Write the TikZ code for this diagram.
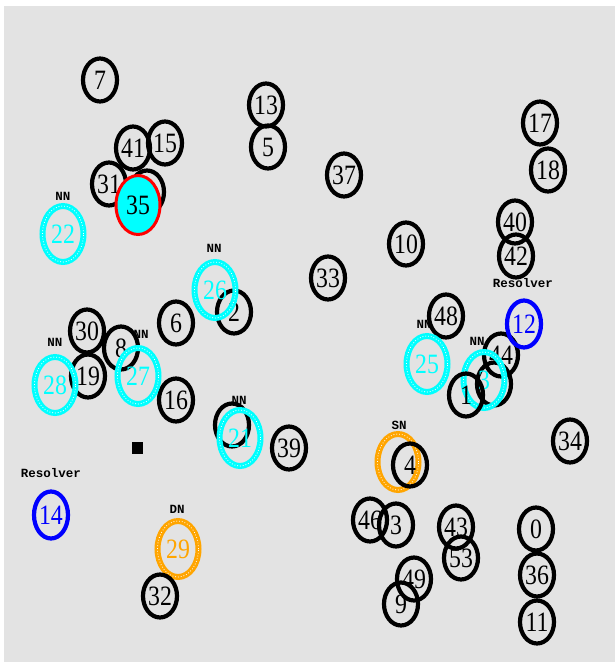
\documentclass[tikz,border=0pt]{standalone}
\usepackage{fontspec}
\newfontfamily\numfont[FakeStretch=0.85]{Liberation Serif}
\newfontfamily\labfont{Liberation Mono}
\usetikzlibrary{shapes.geometric}
\definecolor{bgc}{HTML}{E3E3E3}
\definecolor{orng}{HTML}{FFA500}
\definecolor{cyn}{HTML}{00FFFF}
\begin{document}
\begin{tikzpicture}[x=1pt,y=-1pt,
  numf/.style={font=\numfont\fontsize{28}{28}\selectfont},
  bk/.style={ellipse, draw=black, line width=4.2pt, minimum width=34pt, minimum height=43pt, inner sep=-4pt, numf},
  bl/.style={bk, draw=blue, text=blue, minimum height=47pt},
  cy/.style={ellipse, draw=cyn, line width=6pt, minimum width=41pt, minimum height=56pt, inner sep=-4pt, numf, text=cyn,
    postaction={draw=white, line width=0.8pt, dotted}},
  og/.style={cy, draw=orng, text=orng},
  rd/.style={ellipse, draw=red, line width=3pt, fill=cyn, minimum width=44pt, minimum height=59pt, inner sep=-4pt, numf},
  lab/.style={font=\labfont\bfseries\fontsize{12.5}{12.5}\selectfont, inner sep=0pt}]
\useasboundingbox (0,0) rectangle (615,662);
\fill[bgc] (4,6) rectangle (615,662);

% small labels (drawn first, so that rings cover them)
\node[lab] (l22) at (63,196) {NN};
\node[lab] (l26) at (214,248) {NN};
\node[lab] (l27) at (141,334) {NN};
\node[lab] (l28) at (55,342) {NN};
\node[lab] (l21) at (239,400) {NN};
\node[lab] (l25) at (424,324) {NN};
\node[lab] (l43) at (477,341) {NN};
\node[lab] (lsn) at (399,425) {SN};
\node[lab] (ldn) at (177,509) {DN};
\node[lab] (lr14) at (51,473) {Resolver};
\node[lab] (lr12) at (523,283) {Resolver};

% coloured nodes under black ones
\node[og] (n20) at (398,462) {};
\node[og] (n29) at (178,549) {29};

% black nodes
\node[bk] (n7) at (100,80) {7};
\node[bk] (n13) at (266,105) {13};
\node[bk] (n5) at (268,147) {5};
\node[bk] (n41) at (133,148) {41};
\node[bk] (n15) at (165,143) {15};
\node[bk] (n31) at (109,184) {31};
\node[bk] (n23) at (147,192) {};
\node[bk] (n37) at (344,175) {37};
\node[bk] (n17) at (540,123) {17};
\node[bk] (n18) at (548,170) {18};
\node[bk] (n40) at (515,222) {40};
\node[bk] (n42) at (516,256) {42};
\node[bk] (n10) at (406,244) {10};
\node[bk] (n33) at (328,278) {33};
\node[bk] (n2) at (234,312) {2};
\node[bk] (n6) at (176,323) {6};
\node[bk] (n30) at (87,331) {30};
\node[bk] (n8) at (121,348) {8};
\node[bk] (n19) at (88,376) {19};
\node[bk] (n16) at (176,400) {16};
\node[bk] (n47) at (232,425) {};
\node[bk] (n39) at (289,448) {39};
\node[bk] (n48) at (446,316) {48};
\node[bk] (n44) at (501,355) {44};
\node[bk] (n24) at (494,384) {};
\node[bk] (n34) at (570,441) {34};
\node[bk] (n4) at (410,465) {4};
\node[bk] (n46) at (370,520) {46};
\node[bk] (n3) at (396,525) {3};
\node[bk] (n45) at (456,527) {43};
\node[bk] (n53) at (461,558) {53};
\node[bk] (n0) at (536,529) {0};
\node[bk] (n36) at (537,575) {36};
\node[bk] (n11) at (537,622) {11};
\node[bk] (n49) at (414,579) {49};
\node[bk] (n9) at (401,604) {9};
\node[bk] (n32) at (160,596) {32};

% cyan nodes
\node[cy] (n22) at (63,234) {22};
\node[cy] (n26) at (215,290) {26};
\node[cy] (n27) at (138,376) {27};
\node[cy] (n28) at (55,385) {28};
\node[cy] (n21) at (240,438) {21};
\node[cy] (n25) at (427,364) {25};
\node[cy] (n43) at (484,380) {3};
\node[bk] (n1) at (466,395) {1};

% blue nodes
\node[bl] (n12) at (524,324) {12};
\node[bl] (n14) at (51,515) {14};

% red node
\node[rd] (n35) at (138,205) {35};

% square
\node[fill=black, minimum width=11pt, minimum height=12pt, inner sep=0pt] (sq) at (137,448) {};
\end{tikzpicture}
\end{document}
